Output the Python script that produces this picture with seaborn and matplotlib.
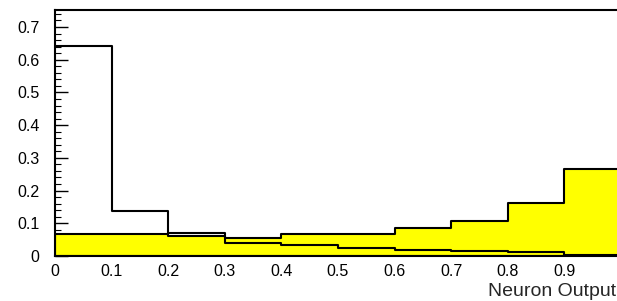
import numpy as np
import pandas as pd
import seaborn as sns
import matplotlib.pyplot as plt

# bin edges of the neuron output histograms
bin_edges = [0.0, 0.1, 0.2, 0.3, 0.4, 0.5, 0.6, 0.7, 0.8, 0.9, 1.0]
bin_centers = [0.05, 0.15, 0.25, 0.35, 0.45, 0.55, 0.65, 0.75, 0.85, 0.95]

# yellow filled histogram (rises towards 1)
filled_values = [0.067, 0.068, 0.062, 0.055, 0.067, 0.067, 0.086, 0.108, 0.162, 0.266]
# open black histogram (peaks at 0)
line_values = [0.642, 0.138, 0.070, 0.040, 0.034, 0.024, 0.019, 0.015, 0.012, 0.003]

x_ticks = [0.0, 0.1, 0.2, 0.3, 0.4, 0.5, 0.6, 0.7, 0.8, 0.9, 1.0]
x_labels = ["0", "0.1", "0.2", "0.3", "0.4", "0.5", "0.6", "0.7", "0.8", "0.9", ""]
y_ticks = [0.0, 0.1, 0.2, 0.3, 0.4, 0.5, 0.6, 0.7]
y_labels = ["0", "0.1", "0.2", "0.3", "0.4", "0.5", "0.6", "0.7"]

df = pd.DataFrame({"center": bin_centers, "filled": filled_values, "line": line_values})

sns.set_style("ticks")
plt.rcParams["font.family"] = ["Liberation Sans", "DejaVu Sans"]

fig = plt.figure(figsize=(6.17, 3.01), dpi=100)
# axes right edge runs slightly past the figure, like the cropped original
ax = fig.add_axes([55 / 617, 45 / 301, 566 / 617, 246 / 301])

sns.histplot(data=df, x="center", weights="filled", bins=bin_edges,
             element="step", fill=True, facecolor="#ffff00", edgecolor="black",
             linewidth=1.5, alpha=1, ax=ax)
sns.histplot(data=df, x="center", weights="line", bins=bin_edges,
             element="step", fill=False, color="black", linewidth=1.5, ax=ax)

ax.set_xlim(0, 1.0)
ax.set_ylim(0, 0.752)
ax.set_xticks(x_ticks)
ax.set_xticklabels(x_labels)
ax.set_yticks(y_ticks)
ax.set_yticklabels(y_labels)
ax.set_xticks(np.arange(0, 1.001, 0.02), minor=True)
ax.set_yticks(np.arange(0, 0.752, 0.02), minor=True)

ax.tick_params(which="major", direction="in", length=9, width=1, labelsize=11.5, pad=6,
               colors="black")
ax.tick_params(which="minor", direction="in", length=4.5, width=0.8, colors="black")
ax.tick_params(axis="y", which="major", pad=11)

for side in ["left", "top", "bottom", "right"]:
    ax.spines[side].set_visible(True)
    ax.spines[side].set_color("black")
    ax.spines[side].set_linewidth(1.5)

ax.set_ylabel("")
ax.set_xlabel("")
# axis title sits at the lower right corner, just inside the figure edge
fig.text(616 / 617, 1 / 301, "Neuron Output", ha="right", va="bottom", fontsize=14)

fig.savefig("out.png", dpi=100)
